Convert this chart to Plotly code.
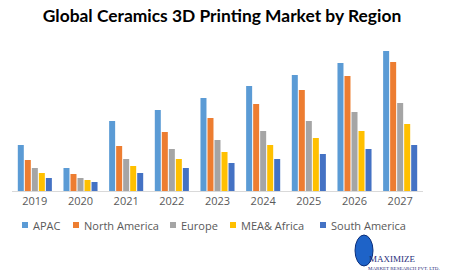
import plotly.graph_objects as go

years = ["2019", "2020", "2021", "2022", "2023", "2024", "2025", "2026", "2027"]
series_names = ["APAC", "North America", "Europe", "MEA& Africa", "South America"]
apac = [46, 23, 70, 81, 93, 105, 116, 128, 140]
north_america = [31, 17, 45, 59, 73, 87, 101, 115, 129]
europe = [23, 13, 32, 42, 51, 60, 70, 79, 88]
mea_africa = [18, 11, 25, 32, 39, 46, 53, 60, 67]
south_america = [13, 9, 18, 23, 28, 32, 37, 42, 46]
colors = ["#5B9BD5", "#ED7D31", "#A5A5A5", "#FFC000", "#4472C4"]

W, H = 454, 273
fig = go.Figure()
for name, vals, col in zip(series_names, [apac, north_america, europe, mea_africa, south_america], colors):
    fig.add_trace(go.Bar(x=years, y=vals, name=name, marker_color=col, marker_line_width=0, showlegend=False))

# manual legend
leg_x = [22, 73, 170, 230, 320]
leg_y = 225
for name, col, lx in zip(series_names, colors, leg_x):
    fig.add_shape(type="rect", xref="paper", yref="paper",
                  x0=(lx - 12) / (W - 43), x1=(lx - 6) / (W - 43),
                  y0=(191 - leg_y - 3) / 151 * 1, y1=(191 - leg_y + 3) / 151,
                  fillcolor=col, line_width=0)
    fig.add_annotation(xref="paper", yref="paper", x=(lx - 3) / (W - 43), y=(191 - leg_y) / 151,
                       text=name, showarrow=False, xanchor="left", yanchor="middle",
                       font=dict(family="Open Sans", size=11, color="#595959"))

# logo
fig.add_shape(type="circle", xref="paper", yref="paper",
              x0=(355 - 12) / (W - 43), x1=(373 - 12) / (W - 43),
              y0=(191 - 266) / 151, y1=(191 - 235) / 151,
              fillcolor="#1E63C8", line=dict(color="#0B2E7A", width=1))
fig.add_annotation(xref="paper", yref="paper", x=(367 - 12) / (W - 43), y=(191 - 259) / 151,
                   text="MAXIMIZE", showarrow=False, xanchor="left", yanchor="middle",
                   font=dict(family="Liberation Serif", size=9, color="#1F2D7A"))
fig.add_annotation(xref="paper", yref="paper", x=(366 - 12) / (W - 43), y=(191 - 268) / 151,
                   text="MARKET RESEARCH PVT. LTD.", showarrow=False, xanchor="left", yanchor="middle",
                   font=dict(family="Liberation Serif", size=5, color="#1F2D7A"))

fig.update_layout(
    width=W, height=H,
    margin=dict(l=12, r=31, t=40, b=82),
    paper_bgcolor="white", plot_bgcolor="white",
    barmode="group", bargap=0.232, bargroupgap=0.143,
    title=dict(text="<b>Global Ceramics 3D Printing Market by Region</b>",
               x=222 / W, xref="container", xanchor="center",
               y=1 - 16 / H, yref="container", yanchor="middle",
               font=dict(family="Lato", size=17.4, color="#000000")),
    xaxis=dict(showline=True, linecolor="#D9D9D9", linewidth=1, ticks="",
               tickfont=dict(family="Open Sans", size=11, color="#595959"),
               showgrid=False, zeroline=False),
    yaxis=dict(visible=False, range=[0, 151], showgrid=False, zeroline=False),
    showlegend=False,
)
fig.write_html("out.html")
